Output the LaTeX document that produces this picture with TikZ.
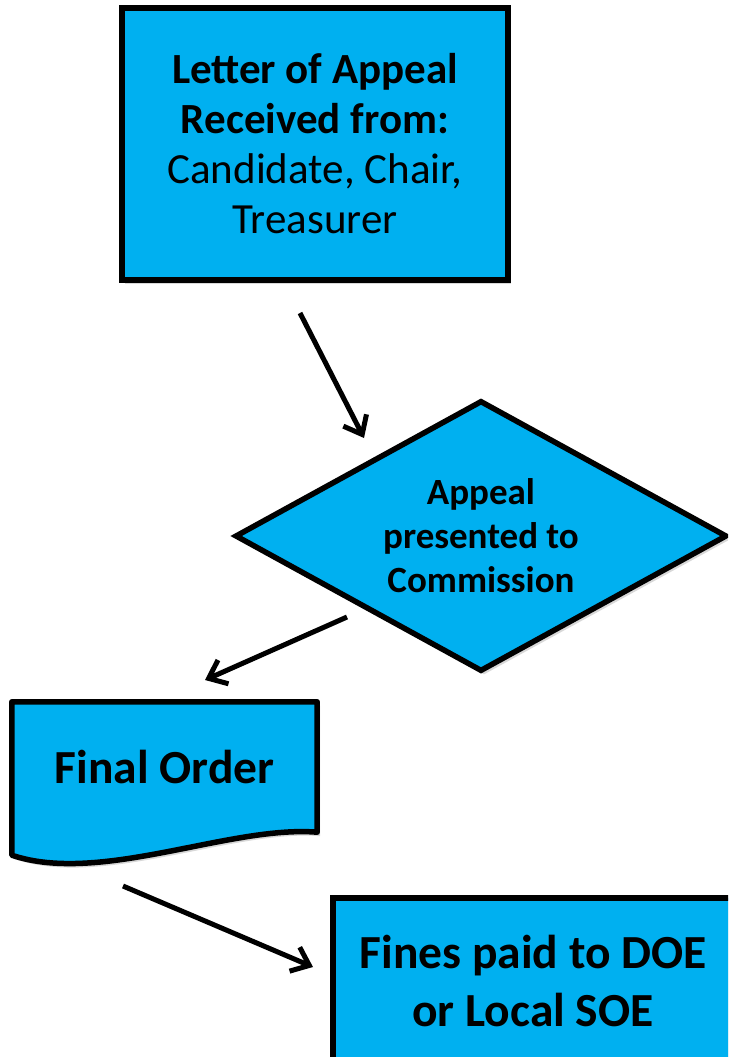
\documentclass[tikz,border=0pt]{standalone}
\usepackage{fontspec}
\setmainfont{Carlito}
\usetikzlibrary{shapes.geometric,arrows.meta,shadows,calc}
\definecolor{appealblue}{HTML}{00B0F0}

\begin{document}
\begin{tikzpicture}
  [x=1pt,y=-1pt,
     boxstyle/.style={shape=rectangle,
                  draw=black,
                  line width=5.5pt,
                  fill=appealblue,
                  align=center,
                  drop shadow={opacity=0.3,shadow xshift=3pt,shadow yshift=-4pt}},
     decide/.style={shape=diamond,
                  draw=black,
                  line width=5.5pt,
                  fill=appealblue,
                  align=center,
                  aspect=1.8,
                  inner sep=0pt,
                  drop shadow={opacity=0.3,shadow xshift=3pt,shadow yshift=-4pt}},
     flowarrow/.style={line width=5pt,
                  -{Straight Barb[length=16pt,width=26pt,line width=5pt]}}
  ]
    \clip (0,0) rectangle (728,1057);
    \fill[white] (0,0) rectangle (728,1057);

    % letter of appeal
    \node[boxstyle,minimum width=386,minimum height=272,
          font=\fontsize{43}{50}\selectfont] (letter) at (315,144)
          {\textbf{Letter of Appeal}\\\textbf{Received from:}\\Candidate, Chair,\\Treasurer};

    % commission
    \node[decide,minimum width=492,minimum height=271,
          font=\fontsize{37}{44}\selectfont\bfseries] (commission) at (481,536)
          {Appeal\\presented to\\Commission};

    % final order (document shape)
    \node[minimum width=305,minimum height=130,inner sep=0pt] (order) at (164.5,767) {};
    \path[draw=black,line width=5.5pt,line join=round,fill=appealblue,
          drop shadow={opacity=0.3,shadow xshift=3pt,shadow yshift=-4pt}]
        (order.north west) -- (order.north east) -- (order.south east)
        .. controls (230,825) and (100,885) .. ($(order.south west)+(0,23)$) -- cycle;
    \node[font=\fontsize{47.5}{56}\selectfont\bfseries] at (order.center) {Final Order};

    % fines
    \node[boxstyle,minimum width=400,minimum height=166,
          font=\fontsize{47.5}{58}\selectfont\bfseries] (fines) at (533,981)
          {Fines paid to DOE\\or Local SOE};

    % connectors
    \coordinate (a1) at (300,313);
    \coordinate (b1) at (364,438);
    \coordinate (a2) at (347,617);
    \coordinate (b2) at (205,680);
    \coordinate (a3) at (123,886);
    \coordinate (b3) at (313,967);
    \draw[flowarrow] (a1) -- (b1);
    \draw[flowarrow] (a2) -- (b2);
    \draw[flowarrow] (a3) -- (b3);

\end{tikzpicture}
\end{document}
